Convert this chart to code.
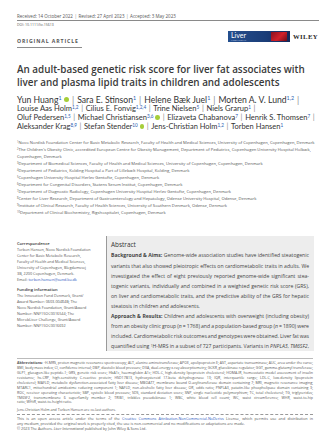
<!DOCTYPE html>
<html><head>
<meta charset="utf-8">
<script src="https://cdn.jsdelivr.net/npm/chart.js"></script>
<style>
  html, body { margin: 0; padding: 0; background: #fff; }
  body { width: 319px; height: 445px; position: relative; overflow: hidden; font-family: "Open Sans", sans-serif; color: #444; }
  .ln { position: absolute; white-space: nowrap; line-height: 1; }
  .rule { position: absolute; height: 0; }
  sup { font-size: 62%; vertical-align: 0; position: relative; top: -0.45em; }
  .au sup { color: #2a5db0; }
  .sep { color: #888; padding: 0 0.35em; }
  .orcid { display: inline-block; width: 0.62em; height: 0.62em; border-radius: 50%; background: #a6ce39; margin-left: 0.25em; vertical-align: 0.05em; }
  .link { color: #2a55c0; }
  .box { position: absolute; background: #ededed; border-left: 1px solid #9a9a9a; }
</style>
</head>
<body>
<script>
// ---- text content ----
var receivedItems = ["Received: 14 October 2022", "Revised: 27 April 2023", "Accepted: 3 May 2023"];
var doiText = "DOI: 10.1111/liv.15613";
var articleType = "ORIGINAL ARTICLE";
var titleLines = [
  "An adult-based genetic risk score for liver fat associates with",
  "liver and plasma lipid traits in children and adolescents"
];
// [name, superscript, orcid]
var authorLines = [
  [["Yun Huang", "1", true], ["Sara E. Stinson", "1"], ["Helene Bæk Juel", "1"], ["Morten A. V. Lund", "1,2"]],
  [["Louise Aas Holm", "1,2"], ["Cilius E. Fonvig", "1,2,4"], ["Trine Nielsen", "5"], ["Niels Grarup", "1"]],
  [["Oluf Pedersen", "1,5"], ["Michael Christiansen", "3,6", true], ["Elizaveta Chabanova", "7"], ["Henrik S. Thomsen", "7"]],
  [["Aleksander Krag", "8,9"], ["Stefan Stender", "10", true], ["Jens-Christian Holm", "1,2"], ["Torben Hansen", "1"]]
];
var affiliationLines = [
  "<sup>1</sup>Novo Nordisk Foundation Center for Basic Metabolic Research, Faculty of Health and Medical Sciences, University of Copenhagen, Copenhagen, Denmark",
  "<sup>2</sup>The Children's Obesity Clinic, accredited European Centre for Obesity Management, Department of Pediatrics, Copenhagen University Hospital Holbæk,",
  "Copenhagen, Denmark",
  "<sup>3</sup>Department of Biomedical Sciences, Faculty of Health and Medical Sciences, University of Copenhagen, Copenhagen, Denmark",
  "<sup>4</sup>Department of Pediatrics, Kolding Hospital a Part of Lillebælt Hospital, Kolding, Denmark",
  "<sup>5</sup>Copenhagen University Hospital Herlev Gentofte, Copenhagen, Denmark",
  "<sup>6</sup>Department for Congenital Disorders, Statens Serum Institut, Copenhagen, Denmark",
  "<sup>7</sup>Department of Diagnostic Radiology, Copenhagen University Hospital Herlev Gentofte, Copenhagen, Denmark",
  "<sup>8</sup>Center for Liver Research, Department of Gastroenterology and Hepatology, Odense University Hospital, Odense, Denmark",
  "<sup>9</sup>Institute of Clinical Research, Faculty of Health Sciences, University of Southern Denmark, Odense, Denmark",
  "<sup>10</sup>Department of Clinical Biochemistry, Rigshospitalet, Copenhagen, Denmark"
];
var corrHeading = "Correspondence";
var corrLines = [
  "Torben Hansen, Novo Nordisk Foundation",
  "Center for Basic Metabolic Research,",
  "Faculty of Health and Medical Sciences,",
  "University of Copenhagen, Blegdamsvej",
  "3B, 2200 Copenhagen, Denmark.",
  "Email: <span class='link'>torben.hansen@sund.ku.dk</span>"
];
var fundingHeading = "Funding information";
var fundingLines = [
  "The Innovation Fund Denmark, Grant/",
  "Award Number: 0603-00484B; The",
  "Novo Nordisk Foundation, Grant/Award",
  "Number: NNF15OC0016544; The",
  "MicrobLiver Challenge, Grant/Award",
  "Number: NNF15OC0016692"
];
var abstractHeading = "Abstract";
// [html, justified]
var abstractLines = [
  ["<b>Background &amp; Aims:</b> Genome-wide association studies have identified steatogenic", true],
  ["variants that also showed pleiotropic effects on cardiometabolic traits in adults. We", true],
  ["investigated the effect of eight previously reported genome-wide significant stea-", true],
  ["togenic variants, individually and combined in a weighted genetic risk score (GRS),", true],
  ["on liver and cardiometabolic traits, and the predictive ability of the GRS for hepatic", true],
  ["steatosis in children and adolescents.", false],
  ["<b>Approach &amp; Results:</b> Children and adolescents with overweight (including obesity)", true],
  ["from an obesity clinic group (<i>n</i> = 1768) and a population-based group (<i>n</i> = 1890) were", true],
  ["included. Cardiometabolic risk outcomes and genotypes were obtained. Liver fat was", true],
  ["quantified using <sup>1</sup>H-MRS in a subset of 727 participants. Variants in <i>PNPLA3</i>, <i>TM6SF2</i>,", true]
];
var abbrevLines = [
  ["<b>Abbreviations:</b> <sup>1</sup>H-MRS, proton magnetic resonance spectroscopy; ALT, alanine aminotransferase; APOE, apolipoprotein E; AST, aspartate transaminase; AUC, area under the curve;", true],
  ["BMI, body mass index; CI, confidence interval; DBP, diastolic blood pressure; DXA, dual-energy x-ray absorptiometry; GCKR, glucokinase regulator; GGT, gamma-glutamyl transferase;", true],
  ["GLP1, glucagon-like peptide-1; GRS, genetic risk score; HbA1c, haemoglobin A1c; HDL-C, high-density lipoprotein cholesterol; HOMA-IR, homeostatic model assessment of insulin", true],
  ["resistance; hs-CRP, high-sensitivity C-reactive protein; HSD17B13, hydroxysteroid 17-beta dehydrogenase 13; IQR, interquartile range; LDL-C, low-density lipoprotein", true],
  ["cholesterol; MAFLD, metabolic dysfunction-associated fatty liver disease; MBOAT7, membrane bound O-acyltransferase domain containing 7; MRI, magnetic resonance imaging;", true],
  ["MTARC1, mitochondrial amidoxime reducing component 1; NAFLD, non-alcoholic fatty liver disease; OR, odds ratio; PNPLA3, patatin-like phospholipase domain containing 3;", true],
  ["ROC, receiver operating characteristic; SBP, systolic blood pressure; SDS, standard deviation score; SNP, single nucleotide polymorphism; TC, total cholesterol; TG, triglycerides;", true],
  ["TM6SF2, transmembrane 6 superfamily member 2; TRIB1, tribbles pseudokinase 1; WBC, white blood cell count; WC, waist circumference; WHR, waist-to-hip", true],
  ["ratio; WHtR, waist-to-height ratio.", false]
];
var coLastText = "Jens-Christian Holm and Torben Hansen are co-last authors.";
var licenseLines = [
  ["This is an open access article under the terms of the <span class='link'>Creative Commons Attribution-NonCommercial-NoDerivs</span> License, which permits use and distribution in", true],
  ["any medium, provided the original work is properly cited, the use is non-commercial and no modifications or adaptations are made.", false],
  ["© 2023 The Authors. <i>Liver International</i> published by John Wiley &amp; Sons Ltd.", false]
];

// ---- helpers ----
var L = 17, R = 313;
function put(html, x, y, fs, css) {
  var el = document.createElement('div');
  el.className = 'ln';
  el.innerHTML = html;
  el.style.left = x + 'px';
  el.style.top = (y - fs / 2) + 'px';
  el.style.fontSize = fs + 'px';
  if (css) for (var k in css) el.style[k] = css[k];
  document.body.appendChild(el);
  return el;
}
function width(el) { return el.getBoundingClientRect().width; }
function fitSize(el, w) {
  var fs = parseFloat(el.style.fontSize);
  var top = parseFloat(el.style.top) + fs / 2;
  var nfs = fs * w / width(el);
  el.style.fontSize = nfs + 'px';
  el.style.top = (top - nfs / 2) + 'px';
  return nfs;
}
function justify(el, w) {
  var n = (el.textContent.match(/ /g) || []).length;
  if (n) el.style.wordSpacing = ((w - width(el)) / n) + 'px';
}
function hline(x1, x2, y, style) {
  var el = document.createElement('div');
  el.className = 'rule';
  el.style.left = x1 + 'px';
  el.style.width = (x2 - x1) + 'px';
  el.style.top = y + 'px';
  el.style.borderTop = style;
  document.body.appendChild(el);
}

// ---- header ----
var rec = put(receivedItems.join("<span class='sep'>|</span>"), L, 16, 3.6, { color: '#555' });
fitSize(rec, 159);
hline(L, 319, 20, '0.8px solid #8a8a8a');
put(doiText, L, 25, 3.5, { color: '#555' });

// journal logo
var logo = document.createElement('div');
logo.style.cssText = 'position:absolute;left:228px;top:31px;width:62px;height:11px;background:linear-gradient(90deg,#244f8e,#1b3d78 60%,#14295a);';
logo.innerHTML = "<div style='position:absolute;left:43px;top:1px;width:16px;height:9px;background:linear-gradient(135deg,#8a1020,#d2202a 55%,#6d0c18);'></div>" +
  "<div style='position:absolute;left:3px;top:0px;font:7px Lato,sans-serif;color:#fff;line-height:8px;'>Liver</div>" +
  "<div style='position:absolute;left:3px;top:8px;font:1.8px Lato,sans-serif;color:#cfd8ea;line-height:2px;letter-spacing:0.1px;'>INTERNATIONAL</div>";
document.body.appendChild(logo);
var wiley = put("WILEY", 293, 37.5, 6.6, { fontFamily: '"Liberation Serif", "DejaVu Serif", serif', fontWeight: 'bold', color: '#2a2a2a', letterSpacing: '0.4px' });
fitSize(wiley, 25);

var oa = put(articleType, L, 42, 4.2, { fontWeight: 'bold', letterSpacing: '0.9px', color: '#555' });
fitSize(oa, 65);
hline(L, 82, 47, '0.9px solid #8c8c8c');

// ---- title ----
var t1 = put(titleLines[0], L, 70, 8.6, { fontWeight: '600', color: '#3a3a3a' });
var tfs = fitSize(t1, 288);
put(titleLines[1], L, 83, tfs, { fontWeight: '600', color: '#3a3a3a' });

// ---- authors ----
var authorY = [100, 109, 118, 127];
var authorW = [285, 241, 300, 266];
authorLines.forEach(function (line, i) {
  var html = line.map(function (a) {
    return a[0] + '<sup>' + a[1] + '</sup>' + (a[2] ? "<span class='orcid'></span>" : '');
  }).join("<span class='sep'>|</span>");
  if (i < authorLines.length - 1) html += "<span class='sep'>|</span>";
  var el = put(html, L, authorY[i], 6.2, { fontFamily: 'Lato, sans-serif', color: '#333' });
  el.classList.add('au');
  fitSize(el, authorW[i]);
});

// ---- affiliations ----
var a0 = put(affiliationLines[0], L, 143, 3.6, { color: '#555' });
var afs = fitSize(a0, 298);
for (var i = 1; i < affiliationLines.length; i++) {
  put(affiliationLines[i], L, 143 + i * 7, afs, { color: '#555' });
}

// ---- left column ----
var cy = 244, cs = 5.9;
put(corrHeading, L, cy, 4.1, { color: '#333', fontWeight: '600' });
corrLines.forEach(function (s, i) {
  put(s, L, cy + (i + 1) * cs, 3.75, { color: '#555' });
});
var fy = cy + 7 * cs + 5;
put(fundingHeading, L, fy, 4.1, { color: '#333', fontWeight: '600' });
fundingLines.forEach(function (s, i) {
  put(s, L, fy + (i + 1) * cs, 3.75, { color: '#555' });
});

// ---- abstract box ----
var box = document.createElement('div');
box.className = 'box';
box.style.left = '106px'; box.style.top = '236px';
box.style.width = (R - 106) + 'px'; box.style.height = '115px';
document.body.appendChild(box);
var bx = 111, bw = 198;
put(abstractHeading, bx, 245, 6.4, { color: '#333' });
var b0 = put(abstractLines[0][0], bx, 256, 4.8, { color: '#444' });
var bfs = fitSize(b0, bw);
abstractLines.forEach(function (ln, i) {
  var el = i === 0 ? b0 : put(ln[0], bx, 256 + i * 10.1, bfs, { color: '#444' });
  if (ln[1]) justify(el, bw);
});

// ---- footnotes ----
hline(L, R, 357.5, '0.5px solid #bbb');
var ab0 = put(abbrevLines[0][0], L, 363, 3.2, { color: '#555' });
var abfs = fitSize(ab0, R - L);
abbrevLines.forEach(function (ln, i) {
  var el = i === 0 ? ab0 : put(ln[0], L, 363 + i * 4.9, abfs, { color: '#555' });
  if (ln[1]) justify(el, R - L);
});
put(coLastText, L, 410, abfs, { color: '#555' });
hline(L, R, 414, '0.6px dashed #999');
licenseLines.forEach(function (ln, i) {
  var el = put(ln[0], L, 419 + i * 5, abfs * 1.05, { color: '#555' });
  if (ln[1]) justify(el, R - L);
});
</script>
</body>
</html>
